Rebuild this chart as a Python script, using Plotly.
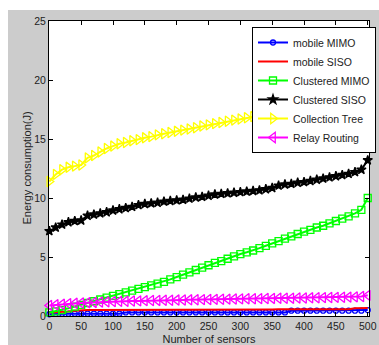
import plotly.graph_objects as go

sensors = list(range(0, 501, 10))

mobile_mimo = [0.15, 0.18, 0.2, 0.2, 0.2, 0.2, 0.2, 0.2, 0.2, 0.2, 0.2, 0.2,
               0.3, 0.3, 0.3, 0.3, 0.3, 0.3, 0.3, 0.3, 0.3, 0.3, 0.3, 0.3, 0.3, 0.3,
               0.3, 0.3, 0.3, 0.3, 0.3, 0.3, 0.3, 0.3, 0.3, 0.3, 0.3, 0.3,
               0.45, 0.45, 0.45, 0.45, 0.45, 0.45, 0.45, 0.45, 0.45, 0.45, 0.45, 0.45, 0.5]
mobile_siso = [0.3, 0.32, 0.35, 0.38, 0.45, 0.5, 0.5, 0.5, 0.5, 0.5, 0.5, 0.5,
               0.51, 0.51, 0.51, 0.51, 0.52, 0.52, 0.52, 0.52, 0.53, 0.53, 0.53, 0.53, 0.54, 0.54,
               0.54, 0.54, 0.55, 0.55, 0.55, 0.55, 0.56, 0.56, 0.56, 0.56, 0.57, 0.57,
               0.57, 0.57, 0.58, 0.58, 0.58, 0.58, 0.58, 0.58, 0.58, 0.58, 0.65, 0.66, 0.68]
clustered_mimo = [0.3, 0.4, 0.5, 0.65, 0.8, 0.95, 1.1, 1.25, 1.4, 1.55, 1.7, 1.85,
                  2.0, 2.15, 2.3, 2.45, 2.6, 2.75, 2.9, 3.1, 3.3, 3.5, 3.7, 3.9, 4.1, 4.3,
                  4.5, 4.65, 4.85, 5.05, 5.25, 5.4, 5.55, 5.75, 5.95, 6.15, 6.35, 6.55,
                  6.75, 6.95, 7.15, 7.3, 7.5, 7.65, 7.85, 8.05, 8.25, 8.45, 8.7, 9.0, 10.0]
clustered_siso = [7.2, 7.5, 7.75, 7.95, 8.05, 8.1, 8.5, 8.6, 8.7, 8.8, 8.95, 9.05,
                  9.15, 9.25, 9.4, 9.5, 9.55, 9.6, 9.7, 9.75, 9.8, 9.85, 9.95, 10.05, 10.1, 10.2,
                  10.3, 10.35, 10.4, 10.45, 10.5, 10.55, 10.6, 10.65, 10.75, 10.85, 11.05, 11.15,
                  11.2, 11.3, 11.35, 11.45, 11.55, 11.65, 11.75, 11.85, 11.95, 12.05, 12.2, 12.4, 13.2]
collection_tree = [11.4, 12.0, 12.4, 12.6, 12.7, 12.8, 13.4, 13.6, 13.9, 14.2, 14.4, 14.6,
                   14.7, 14.85, 14.95, 15.1, 15.2, 15.35, 15.45, 15.55, 15.65, 15.75, 15.85, 15.95, 16.1, 16.2,
                   16.3, 16.4, 16.5, 16.6, 16.7, 16.8, 16.9, 17.0, 17.1, 17.2, 17.3, 17.4,
                   17.5, 17.6, 17.7, 17.8, 17.9, 18.0, 18.1, 18.2, 18.35, 18.5, 18.7, 19.6, 21.1]
relay_routing = [0.9, 0.95, 1.0, 1.05, 1.08, 1.1, 1.12, 1.15, 1.18, 1.2, 1.22, 1.24,
                 1.25, 1.27, 1.28, 1.3, 1.31, 1.32, 1.33, 1.34, 1.35, 1.36, 1.37, 1.38, 1.39, 1.4,
                 1.41, 1.42, 1.43, 1.44, 1.45, 1.46, 1.46, 1.47, 1.48, 1.49, 1.5, 1.5,
                 1.51, 1.52, 1.53, 1.54, 1.55, 1.56, 1.57, 1.58, 1.59, 1.6, 1.62, 1.65, 1.75]

series = [
    ("mobile MIMO", mobile_mimo, "#0000ff", "circle-open", 5, "lines+markers"),
    ("mobile SISO", mobile_siso, "#ff0000", None, 0, "lines"),
    ("Clustered MIMO", clustered_mimo, "#00ff00", "square-open", 7, "lines+markers"),
    ("Clustered SISO", clustered_siso, "#000000", "star", 7, "lines+markers"),
    ("Collection Tree", collection_tree, "#ffff00", "triangle-right-open", 9, "lines+markers"),
    ("Relay Routing", relay_routing, "#ff00ff", "triangle-left-open", 9, "lines+markers"),
]

fig = go.Figure()
for name, vals, col, sym, size, mode in series:
    kw = dict(x=sensors, y=vals, name=name, mode=mode,
              line=dict(color=col, width=2), cliponaxis=False)
    if sym:
        kw["marker"] = dict(symbol=sym, size=size, color=col,
                            line=dict(color=col, width=1.3))
    fig.add_trace(go.Scatter(**kw))

W, H = 379, 345
ml, mr, mt, mb = 49, 10, 21, 29
pw, ph = W - ml - mr, H - mt - mb

shapes = [
    dict(type="rect", xref="paper", yref="paper",
         x0=-ml / pw - 0.01, x1=(8 - ml) / pw, y0=-mb / ph - 0.01, y1=1 + mt / ph + 0.01,
         fillcolor="white", line=dict(width=0), layer="below"),
    dict(type="rect", xref="paper", yref="paper",
         x0=-ml / pw - 0.01, x1=1 + mr / pw + 0.01, y0=1 + (mt - 10) / ph, y1=1 + mt / ph + 0.01,
         fillcolor="white", line=dict(width=0), layer="below"),
]

fam = "Liberation Sans, Arial, sans-serif"
font = dict(family=fam, size=11, color="#222222")

fig.update_layout(
    width=W, height=H,
    margin=dict(l=ml, r=mr, t=mt, b=mb, autoexpand=False),
    paper_bgcolor="#cccccc", plot_bgcolor="white",
    font=font,
    shapes=shapes,
    showlegend=True,
    legend=dict(x=(252 - ml) / pw, y=1 - 6 / ph, xanchor="left", yanchor="top",
                bgcolor="white", bordercolor="black", borderwidth=1,
                font=dict(family=fam, size=10.5, color="#222222"),
                itemwidth=30, tracegroupgap=0),
    xaxis=dict(range=[-0.5, 502], tickvals=list(range(0, 501, 50)), automargin=False,
               showgrid=False, zeroline=False, showline=True, linecolor="black",
               linewidth=1, mirror="ticks", ticks="inside", ticklen=4, tickcolor="black",
               tickfont=dict(family=fam, size=10.5, color="#222222"),
               title=dict(text="Number of sensors", font=font)),
    yaxis=dict(range=[0, 25], tickvals=list(range(0, 26, 5)), automargin=False,
               showgrid=False, zeroline=False, showline=True, linecolor="black",
               linewidth=1, mirror="ticks", ticks="inside", ticklen=4, tickcolor="black",
               tickfont=dict(family=fam, size=10.5, color="#222222")),
    annotations=[dict(text="Energy consumption(J)", xref="paper", yref="paper",
                      x=(26 - ml) / pw, y=0.5, textangle=-90, showarrow=False,
                      xanchor="center", yanchor="middle", font=font)],
)

fig.write_html("out.html")
